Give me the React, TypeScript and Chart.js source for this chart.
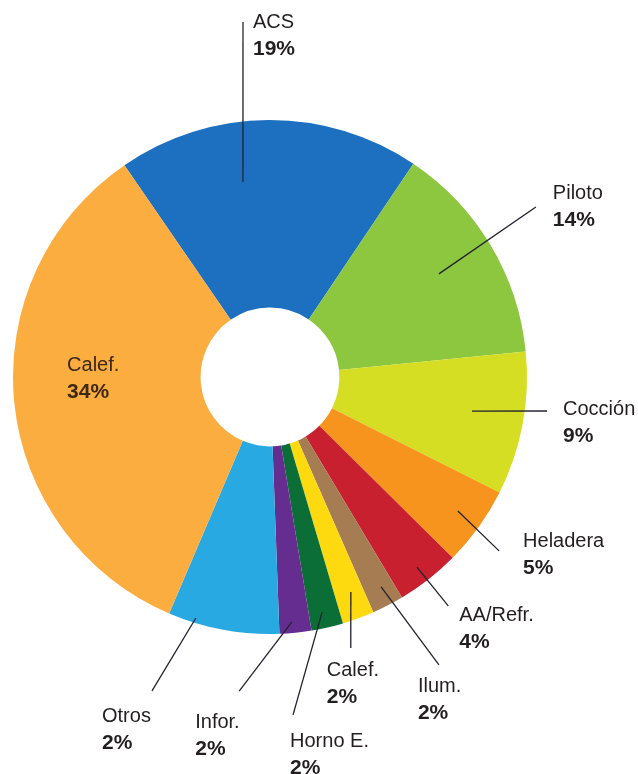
import React, { useEffect, useRef } from "react";
import { Chart, registerables } from "chart.js";

Chart.register(...registerables);

// ---- data ----
const categories = [
  "ACS",
  "Piloto",
  "Cocción",
  "Heladera",
  "AA/Refr.",
  "Ilum.",
  "Calef.",
  "Horno E.",
  "Infor.",
  "Otros",
  "Calef.",
];
const values = [19, 14, 9, 5, 4, 2, 2, 2, 2, 7, 34];
const percentLabels = ["19%", "14%", "9%", "5%", "4%", "2%", "2%", "2%", "2%", "2%", "34%"];
const colors = [
  "#1d70bf",
  "#8dc63f",
  "#d5de23",
  "#f7941d",
  "#c8202f",
  "#a67c52",
  "#fdd910",
  "#0b6e37",
  "#662d91",
  "#29a9e1",
  "#fbad40",
];

// ---- label / leader layout (relative to each slice: angle offset from slice middle in deg,
// radius as fraction of outer radius; text offset in px from the leader end) ----
const leaderLayout = [
  { a0: -7.6, r0: 0.766, a1: -4.05, r1: 1.385, dx: 10, dy: 5.5, line: true },
  { a0: -0.5, r0: 0.77, a1: -1.7, r1: 1.228, dx: 17, dy: -7.5, line: true },
  { a0: -0.9, r0: 0.797, a1: -3.5, r1: 1.086, dx: 16, dy: 3.5, line: true },
  { a0: -0.2, r0: 0.898, a1: 1.5, r1: 1.119, dx: 24, dy: -3.5, line: true },
  { a0: 0.4, r0: 0.935, a1: 0.2, r1: 1.129, dx: 11, dy: 15.5, line: true },
  { a0: -0.6, r0: 0.924, a1: -3.1, r1: 1.299, dx: -21, dy: 27.5, line: true },
  { a0: -0.5, r0: 0.894, a1: 3.5, r1: 1.1, dx: -24, dy: 28.5, line: true },
  { a0: 0.4, r0: 0.937, a1: 9.0, r1: 1.318, dx: -3, dy: 32.5, line: true },
  { a0: 0.6, r0: 0.957, a1: 11.3, r1: 1.228, dx: -44, dy: 36.5, line: true },
  { a0: 6.6, r0: 0.981, a1: 10.1, r1: 1.305, dx: -50, dy: 31.5, line: true },
  { a0: 5.7, r0: 0.7, a1: 5.7, r1: 0.7, dx: -23, dy: -6.5, line: false },
];

const FONT = '"Liberation Sans", Arial, sans-serif';

const labelPlugin = {
  id: "leaderLabels",
  afterDatasetsDraw(chart: any) {
    const ctx = chart.ctx as CanvasRenderingContext2D;
    const meta = chart.getDatasetMeta(0);
    meta.data.forEach((arc: any, i: number) => {
      const { x, y, startAngle, endAngle, outerRadius } = arc.getProps(
        ["x", "y", "startAngle", "endAngle", "outerRadius"],
        true
      );
      const mid = (startAngle + endAngle) / 2;
      const L = leaderLayout[i];
      const pt = (a: number, r: number) => {
        const ang = mid + (a * Math.PI) / 180;
        return [x + Math.cos(ang) * r * outerRadius, y + Math.sin(ang) * r * outerRadius];
      };
      const [x0, y0] = pt(L.a0, L.r0);
      const [x1, y1] = pt(L.a1, L.r1);
      ctx.save();
      if (L.line) {
        ctx.strokeStyle = "#222230";
        ctx.lineWidth = 1.3;
        ctx.beginPath();
        ctx.moveTo(x0, y0);
        ctx.lineTo(x1, y1);
        ctx.stroke();
      }
      const tx = x1 + L.dx;
      const ty = y1 + L.dy;
      ctx.fillStyle = L.line ? "#231f20" : "#3d2813";
      ctx.textAlign = "left";
      ctx.textBaseline = "alphabetic";
      ctx.font = `20px ${FONT}`;
      ctx.fillText(categories[i], tx, ty);
      ctx.font = `bold 21px ${FONT}`;
      ctx.fillText(percentLabels[i], tx, ty + 27);
      ctx.restore();
    });
  },
};

export default function App() {
  const ref = useRef<HTMLCanvasElement | null>(null);
  useEffect(() => {
    if (!ref.current) return;
    const chart = new Chart(ref.current, {
      type: "doughnut",
      data: {
        labels: categories,
        datasets: [
          {
            data: values,
            backgroundColor: colors,
            borderWidth: 0,
          },
        ],
      },
      options: {
        responsive: false,
        animation: false,
        rotation: -34.5,
        radius: 257,
        cutout: "27%",
        layout: { padding: { left: 0, top: 0, right: 98, bottom: 20 } },
        plugins: {
          legend: { display: false },
          tooltip: { enabled: false },
          title: { display: false },
        },
      },
      plugins: [labelPlugin],
    });
    return () => chart.destroy();
  }, []);
  return (
    <canvas
      ref={ref}
      width={638}
      height={774}
      style={{ display: "block", position: "absolute", left: 0, top: 0 }}
    />
  );
}
